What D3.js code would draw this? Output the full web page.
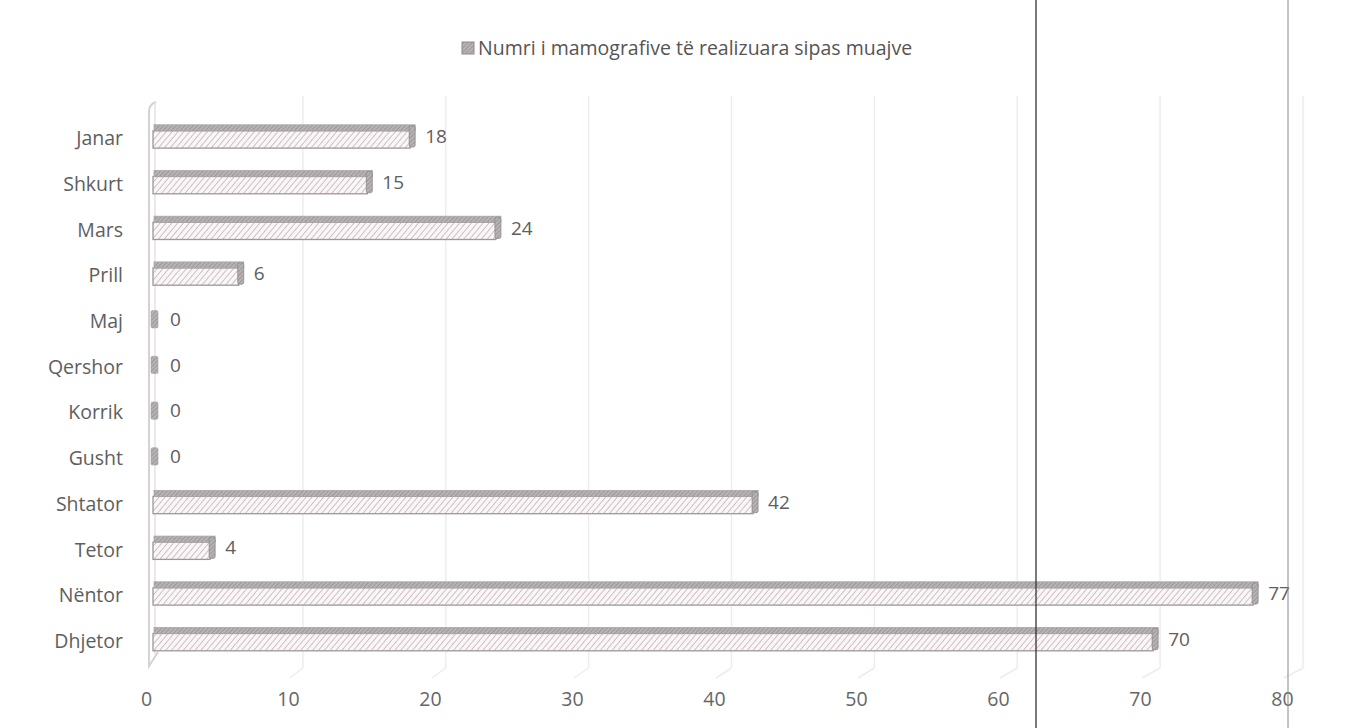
<!DOCTYPE html>
<html><head><meta charset="utf-8">
<script src="https://cdn.jsdelivr.net/npm/d3@7"></script>
<style>body{margin:0;background:#fff}svg{display:block}</style>
</head><body>
<svg id="c" width="1363" height="728"></svg>
<script>
const months = ["Janar","Shkurt","Mars","Prill","Maj","Qershor","Korrik","Gusht","Shtator","Tetor","Nëntor","Dhjetor"];
const counts = [18,15,24,6,0,0,0,0,42,4,77,70];
const xTicks = [0,10,20,30,40,50,60,70,80];
const legendLabel = "Numri i mamografive të realizuara sipas muajve";

const svg = d3.select("#c");
const W = 1363, H = 728;
const FONT = "'Open Sans', sans-serif";
// axis (floor) scale and bar (front plane) scale of the 3D chart
const x = d3.scaleLinear().domain([0,80]).range([146,1282]);
const xb = d3.scaleLinear().domain([0,80]).range([153,1296]);
const y = d3.scaleBand().domain(months).range([113.6,662]).paddingInner(0.49).paddingOuter(0.245);

const defs = svg.append("defs");
const pat = defs.append("pattern").attr("id","hatch").attr("patternUnits","userSpaceOnUse")
  .attr("width",4.5).attr("height",4.5).attr("patternTransform","rotate(40)");
pat.append("rect").attr("width",4.5).attr("height",4.5).attr("fill","#faf6f7");
pat.append("line").attr("x1",0).attr("y1",0).attr("x2",0).attr("y2",4.5).attr("stroke","#c2b5b9").attr("stroke-width",1.6);
const pat2 = defs.append("pattern").attr("id","hatchDark").attr("patternUnits","userSpaceOnUse")
  .attr("width",3).attr("height",3).attr("patternTransform","rotate(45)");
pat2.append("rect").attr("width",3).attr("height",3).attr("fill","#b8b4b6");
pat2.append("line").attr("x1",0).attr("y1",0).attr("x2",0).attr("y2",3).attr("stroke","#8a8688").attr("stroke-width",1.2);

// faint back-wall gridlines
svg.append("g").selectAll("line").data(xTicks.slice(1)).join("line")
  .attr("x1",d=>xb(d)+7).attr("x2",d=>xb(d)+7).attr("y1",96).attr("y2",668)
  .attr("stroke","#f1ebed").attr("stroke-width",1.5);
svg.append("g").selectAll("line").data(xTicks.slice(1)).join("line")
  .attr("x1",d=>xb(d)+7).attr("x2",d=>x(d)+2).attr("y1",668).attr("y2",678)
  .attr("stroke","#f1ebed").attr("stroke-width",1.5);

// 3D wall (left axis)
svg.append("path")
  .attr("d",`M${x(0)+10},102 Q${x(0)+3},104 ${x(0)+3},112 L${x(0)+3},666 L${x(0)+12},652`)
  .attr("fill","none").attr("stroke","#d6d2d4").attr("stroke-width",2);
svg.append("line").attr("x1",xb(0)+2).attr("x2",xb(0)+2).attr("y1",104).attr("y2",655)
  .attr("stroke","#e6e2e4").attr("stroke-width",1.5);

// bars
const depth = 6, cap = 5;
const g = svg.append("g");
months.forEach((m,i)=>{
  const v = counts[i];
  const y0 = y(m), bh = y.bandwidth();
  const x0 = xb(0), x1 = xb(v);
  if (v > 0) {
    g.append("rect").attr("x",x0).attr("y",y0+depth).attr("width",x1-x0).attr("height",bh-depth)
      .attr("fill","url(#hatch)").attr("stroke","#9c9899").attr("stroke-width",1.3);
    g.append("rect").attr("x",x0+1).attr("y",y0).attr("width",x1-x0+cap-1).attr("height",depth)
      .attr("fill","url(#hatchDark)").attr("stroke","#aaa6a8").attr("stroke-width",0.8);
    g.append("rect").attr("x",x1-1).attr("y",y0+1).attr("width",cap+1).attr("height",bh-2).attr("rx",2)
      .attr("fill","url(#hatchDark)").attr("stroke","#8e8a8c").attr("stroke-width",0.8);
  } else {
    g.append("rect").attr("x",x0-2).attr("y",y0+3).attr("width",cap+2).attr("height",bh-6).attr("rx",1.5)
      .attr("fill","url(#hatchDark)").attr("stroke","#a6a2a4").attr("stroke-width",0.6);
  }
  svg.append("text").attr("x",x1+cap+(v===0?12:10)).attr("y",y0+bh/2)
    .attr("dy","0.35em").attr("font-family",FONT).attr("font-size",19)
    .attr("fill","#5e5e5e").text(v);
});

// category labels
svg.append("g").selectAll("text").data(months).join("text")
  .attr("x",123).attr("y",d=>y(d)+y.bandwidth()/2+2).attr("dy","0.35em")
  .attr("text-anchor","end").attr("font-family",FONT).attr("font-size",19.5)
  .attr("fill","#5e5e5e").text(d=>d);

// x axis
const ax = svg.append("g").attr("transform","translate(0,700)")
  .call(d3.axisBottom(x).tickValues(xTicks).tickSize(0).tickPadding(0));
ax.select(".domain").remove();
ax.selectAll("text").attr("font-family",FONT).attr("font-size",19.5)
  .attr("fill","#666").attr("dy","0.32em");

// legend
const lg = svg.append("g").attr("transform","translate(462,48)");
lg.append("rect").attr("x",0).attr("y",-6).attr("width",12).attr("height",12)
  .attr("fill","url(#hatchDark)").attr("stroke","#8e8a8c");
lg.append("text").attr("x",16).attr("y",0).attr("dy","0.35em")
  .attr("font-family",FONT).attr("font-size",19.5).attr("fill","#555")
  .text(legendLabel);

// scan artifacts: vertical page lines
svg.append("line").attr("x1",1036).attr("x2",1036).attr("y1",0).attr("y2",H).attr("stroke","#333").attr("stroke-width",1.3);
svg.append("line").attr("x1",1288).attr("x2",1288).attr("y1",0).attr("y2",H).attr("stroke","#888").attr("stroke-width",1);
</script>
</body></html>
